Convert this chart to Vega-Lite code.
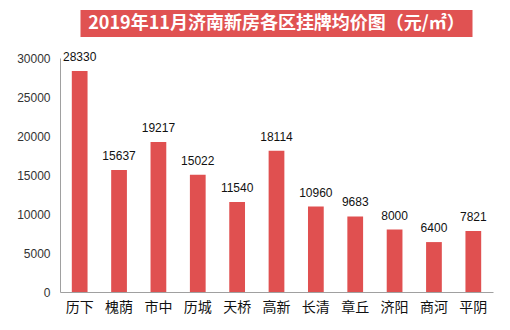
{
  "$schema": "https://vega.github.io/schema/vega-lite/v6.json",
  "background": "white",
  "padding": {"left": 16, "top": 10, "right": 15, "bottom": 5},
  "spacing": 14,
  "center": true,
  "config": {"view": {"stroke": null}},
  "datasets": {
    "prices": [
      {"district": "历下", "price": 28330},
      {"district": "槐荫", "price": 15637},
      {"district": "市中", "price": 19217},
      {"district": "历城", "price": 15022},
      {"district": "天桥", "price": 11540},
      {"district": "高新", "price": 18114},
      {"district": "长清", "price": 10960},
      {"district": "章丘", "price": 9683},
      {"district": "济阳", "price": 8000},
      {"district": "商河", "price": 6400},
      {"district": "平阴", "price": 7821}
    ],
    "title": [{"text": "2019年11月济南新房各区挂牌均价图（元/㎡）"}]
  },
  "vconcat": [
    {
      "width": 392,
      "height": 27,
      "data": {"name": "title"},
      "layer": [
        {"mark": {"type": "rect", "color": "#E05252"}, "encoding": {}},
        {
          "mark": {"type": "text", "color": "white", "font": "Noto Sans CJK SC", "fontWeight": "bold", "fontSize": 18, "baseline": "middle", "align": "center"},
          "encoding": {"text": {"field": "text"}}
        }
      ]
    },
    {
      "width": 433,
      "height": 234,
      "data": {"name": "prices"},
      "encoding": {
        "x": {
          "field": "district", "type": "nominal", "sort": null,
          "scale": {"paddingInner": 0.6, "paddingOuter": 0.3},
          "axis": {"title": null, "labelAngle": 0, "ticks": false, "labelPadding": 8, "labelFontSize": 14, "labelFont": "Noto Sans CJK SC", "labelColor": "#111", "domainColor": "#A0A0A0"}
        },
        "y": {
          "field": "price", "type": "quantitative",
          "scale": {"domain": [0, 30000]},
          "axis": {"title": null, "values": [0, 5000, 10000, 15000, 20000, 25000, 30000], "grid": false, "ticks": false, "labelPadding": 10, "labelFontSize": 12, "labelFont": "Liberation Sans", "labelColor": "#333", "domainColor": "#A0A0A0", "format": "d"}
        }
      },
      "layer": [
        {"mark": {"type": "bar", "color": "#E05050"}},
        {
          "mark": {"type": "text", "baseline": "bottom", "dy": -7, "fontSize": 12, "font": "Liberation Sans", "color": "#111"},
          "encoding": {"text": {"field": "price", "type": "quantitative", "format": "d"}}
        }
      ]
    }
  ]
}
